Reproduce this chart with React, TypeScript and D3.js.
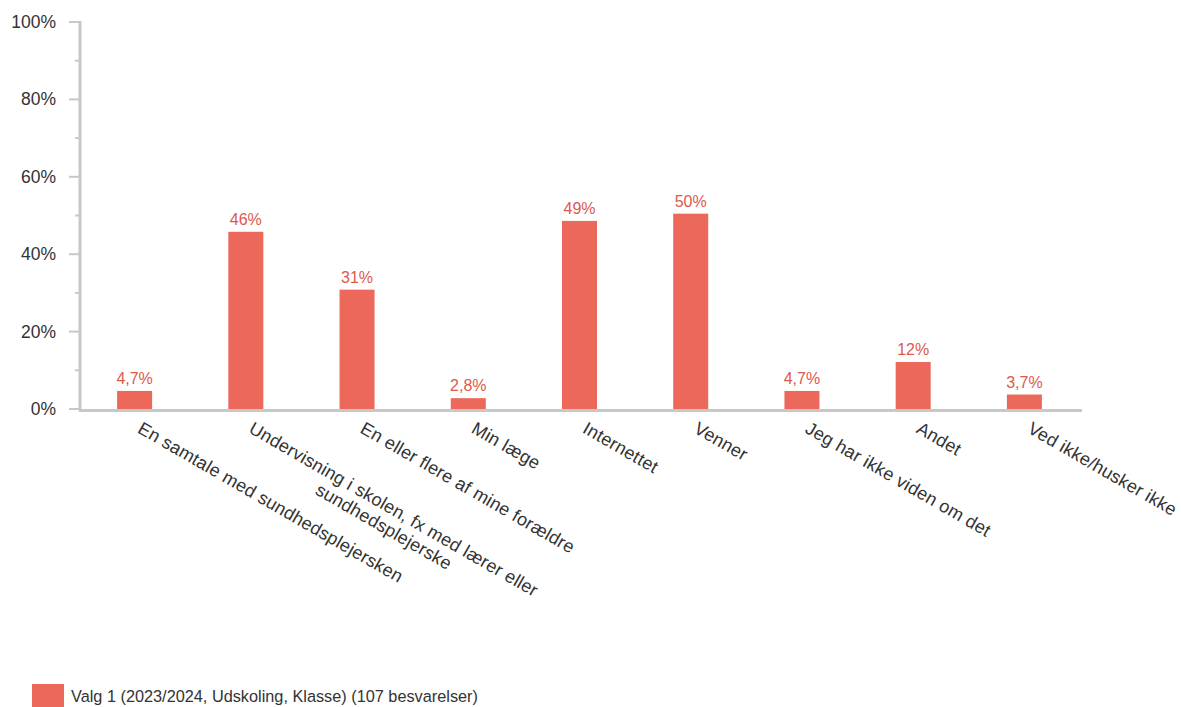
import React from "react";
import * as d3 from "d3";

const categories: string[][] = [
  ["En samtale med sundhedsplejersken"],
  ["Undervisning i skolen, fx med lærer eller", "sundhedsplejerske"],
  ["En eller flere af mine forældre"],
  ["Min læge"],
  ["Internettet"],
  ["Venner"],
  ["Jeg har ikke viden om det"],
  ["Andet"],
  ["Ved ikke/husker ikke"],
];
const values: number[] = [4.67, 45.79, 30.84, 2.8, 48.6, 50.47, 4.67, 12.15, 3.74];
const majorTicks: number[] = [0, 20, 40, 60, 80, 100];
const minorTicks: number[] = [10, 30, 50, 70, 90];
const seriesName = "Valg 1 (2023/2024, Udskoling, Klasse) (107 besvarelser)";

const W = 1181;
const H = 707;
const BAR = "#EB685B";
const LABEL = "#DC5A4D";
const AXIS = "#C8C8C8";
const TEXT = "#333333";
const FONT = "'Liberation Sans', Arial, sans-serif";
const LS = 0.22;

function fmt(v: number): string {
  if (v < 10) return d3.format(".1f")(v).replace(".", ",") + "%";
  return Math.round(v) + "%";
}

function measure(text: string, size: number): number {
  const c = document.createElement("canvas").getContext("2d")!;
  c.font = `${size}px "Liberation Sans", Arial, sans-serif`;
  return c.measureText(text).width + text.length * LS;
}

export default function App() {
  const x = d3.scaleBand<number>().domain(d3.range(categories.length)).range([79, 1080]).padding(0);
  const y = d3.scaleLinear().domain([0, 100]).range([409, 22]);
  const barW = 35;
  const labelSize = 18;

  return (
    <svg width={W} height={H} style={{ position: "absolute", left: 0, top: 0, fontFamily: FONT }}>
      {values.map((v, i) => {
        const cx = x(i)! + x.bandwidth() / 2;
        return (
          <g key={i}>
            <rect x={cx - barW / 2} y={y(v)} width={barW} height={y(0) - y(v)} fill={BAR} />
            <text x={cx} y={y(v) - 7} textAnchor="middle" fontSize={16} fill={LABEL}>
              {fmt(v)}
            </text>
          </g>
        );
      })}
      <line x1={80} x2={80} y1={y(100) - 1} y2={y(0) + 2} stroke={AXIS} strokeWidth={3} />
      {majorTicks.map((t) => (
        <g key={t}>
          <line x1={69} x2={80} y1={y(t)} y2={y(t)} stroke={AXIS} strokeWidth={2} />
          <text x={56} y={y(t) + 6} textAnchor="end" fontSize={17.5} fill={TEXT}>
            {t}%
          </text>
        </g>
      ))}
      {minorTicks.map((t) => (
        <line key={t} x1={75} x2={80} y1={y(t)} y2={y(t)} stroke={AXIS} strokeWidth={2} />
      ))}
      <line x1={79} x2={1082} y1={410.5} y2={410.5} stroke={AXIS} strokeWidth={3} />
      {categories.map((lines, i) => {
        const cx = x(i)! + x.bandwidth() / 2;
        const w0 = measure(lines[0], labelSize);
        return (
          <text
            key={i}
            transform={`translate(${cx + 2},${432}) rotate(30)`}
            fontSize={labelSize}
            letterSpacing={LS}
            fill={TEXT}
          >
            {lines.map((l, j) => (
              <tspan key={j} x={j === 0 ? 0 : (w0 - measure(l, labelSize)) / 2} dy={j === 0 ? 0 : 20}>
                {l}
              </tspan>
            ))}
          </text>
        );
      })}
      <rect x={32} y={684} width={32} height={23} fill={BAR} />
      <text x={71} y={702} fontSize={16.3} fill={TEXT}>
        {seriesName}
      </text>
    </svg>
  );
}
